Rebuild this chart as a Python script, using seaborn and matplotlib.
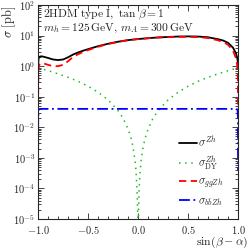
import numpy as np
import pandas as pd
import seaborn as sns
import matplotlib
matplotlib.use("Agg")
import matplotlib.pyplot as plt
from matplotlib.ticker import MultipleLocator, LogLocator, NullFormatter

# sin(beta - alpha) grid and cross sections in pb
x_tot = [-1.0, -0.998, -0.995, -0.99, -0.97, -0.95, -0.9, -0.85, -0.8, -0.75, -0.7,
         -0.65, -0.6, -0.55, -0.5, -0.4, -0.3, -0.2, -0.1, 0.0, 0.1, 0.2, 0.3, 0.4,
         0.5, 0.6, 0.7, 0.8, 0.85, 0.9, 0.95, 0.98, 0.99, 0.995, 0.998, 1.0]
sigma_zh = [0.93, 1.3, 1.75, 2.0, 2.1, 2.05, 1.85, 1.65, 1.58, 1.65, 1.95,
            2.4, 2.8, 3.2, 3.6, 4.5, 5.4, 6.3, 7.1, 7.7, 8.2, 8.7, 9.0, 9.3,
            9.4, 9.3, 8.8, 7.6, 6.9, 5.8, 4.0, 2.6, 2.0, 1.6, 1.25, 0.93]
sigma_gg = [0.05, 0.4, 0.85, 1.1, 1.25, 1.25, 1.1, 1.0, 1.0, 1.1, 1.45,
            2.0, 2.45, 2.9, 3.35, 4.3, 5.3, 6.2, 7.05, 7.65, 8.15, 8.6, 8.9, 9.1,
            9.1, 8.9, 8.3, 7.0, 6.2, 5.0, 3.2, 1.8, 1.15, 0.75, 0.4, 0.05]

x_dy = [-1.0, -0.9, -0.8, -0.7, -0.6, -0.5, -0.4, -0.3, -0.2, -0.15, -0.1, -0.07,
        -0.05, -0.03, -0.02, -0.01, -0.005, -0.003,
        0.003, 0.005, 0.01, 0.02, 0.03, 0.05, 0.07, 0.1, 0.15, 0.2, 0.3, 0.4,
        0.5, 0.6, 0.7, 0.8, 0.9, 1.0]
sigma_dy = [0.88, 0.71, 0.56, 0.43, 0.32, 0.22, 0.14, 0.079, 0.035, 0.020, 0.0088, 0.0043,
            0.0022, 0.00079, 0.00035, 0.000088, 0.000022, 0.0000079,
            0.0000079, 0.000022, 0.000088, 0.00035, 0.00079, 0.0022, 0.0043, 0.0088, 0.020,
            0.035, 0.079, 0.14, 0.22, 0.32, 0.43, 0.56, 0.71, 0.88]

x_bb = [-1.0, -0.999, -0.995, -0.98, -0.5, 0.0, 0.5, 0.98, 0.995, 0.999, 1.0]
sigma_bb = [0.0004, 0.02, 0.038, 0.04, 0.04, 0.04, 0.04, 0.04, 0.038, 0.02, 0.0004]

sns.set_style("ticks")
plt.rcParams["font.family"] = "serif"
plt.rcParams["font.serif"] = ["cmr10", "DejaVu Serif"]
plt.rcParams["mathtext.fontset"] = "cm"
plt.rcParams["axes.formatter.use_mathtext"] = True
plt.rcParams["xtick.direction"] = "in"
plt.rcParams["ytick.direction"] = "in"

fig = plt.figure(figsize=(2.49, 2.50), dpi=100)
ax = fig.add_axes([0.153, 0.124, 0.803, 0.856])

df_tot = pd.DataFrame({"x": x_tot, "zh": sigma_zh, "gg": sigma_gg})
df_dy = pd.DataFrame({"x": x_dy, "dy": sigma_dy})
df_bb = pd.DataFrame({"x": x_bb, "bb": sigma_bb})

sns.lineplot(data=df_tot, x="x", y="zh", ax=ax, color="black", lw=1.3, sort=False,
             label=r"$\sigma^{Zh}$")
sns.lineplot(data=df_dy, x="x", y="dy", ax=ax, color="#22bb22", lw=1.1, sort=False,
             linestyle=(0, (1, 3)), label=r"$\sigma^{Zh}_{\rm DY}$")
sns.lineplot(data=df_tot, x="x", y="gg", ax=ax, color="red", lw=1.3, sort=False,
             linestyle=(0, (4, 2.5)), label=r"$\sigma_{ggZh}$")
sns.lineplot(data=df_bb, x="x", y="bb", ax=ax, color="blue", lw=1.3, sort=False,
             linestyle=(0, (6, 2, 1, 2)), label=r"$\sigma_{b\bar{b}Zh}$")

ax.set_yscale("log")
ax.set_xlim(-1.0, 1.0)
ax.set_ylim(1e-5, 1e2)
ax.xaxis.set_major_locator(MultipleLocator(0.5))
ax.xaxis.set_minor_locator(MultipleLocator(0.1))
ax.yaxis.set_major_locator(LogLocator(base=10, numticks=10))
ax.yaxis.set_minor_locator(LogLocator(base=10, subs=np.arange(2, 10), numticks=20))
ax.yaxis.set_minor_formatter(NullFormatter())
ax.tick_params(which="both", top=True, right=True, labelsize=7.5, width=0.6, pad=2)
ax.tick_params(axis="x", which="both", pad=3.5)
ax.tick_params(which="major", length=4)
ax.tick_params(which="minor", length=2)
for s in ax.spines.values():
    s.set_linewidth(0.8)

ax.set_xlabel("")
ax.set_ylabel("")
fig.text(0.995, 0.0, r"$\sin(\beta-\alpha)$", ha="right", va="bottom", fontsize=8.5)
fig.text(0.0, 0.975, r"$\sigma\ [\mathrm{pb}]$", rotation=90, ha="left", va="top",
         fontsize=9)

ax.text(0.025, 0.955, r"$\mathrm{2HDM\ type\ I},\ \tan\,\beta = 1$", transform=ax.transAxes,
        ha="left", va="center", fontsize=8.3)
ax.text(0.025, 0.893, r"$m_h = 125\,\mathrm{GeV},\, m_A = 300\,\mathrm{GeV}$",
        transform=ax.transAxes, ha="left", va="center", fontsize=8.3)

ax.legend(loc="center left", bbox_to_anchor=(0.665, 0.222), frameon=False, fontsize=8,
          handlelength=1.6, handletextpad=0.1, labelspacing=0.45, borderpad=0.2)

fig.savefig("out.png", dpi=100)
